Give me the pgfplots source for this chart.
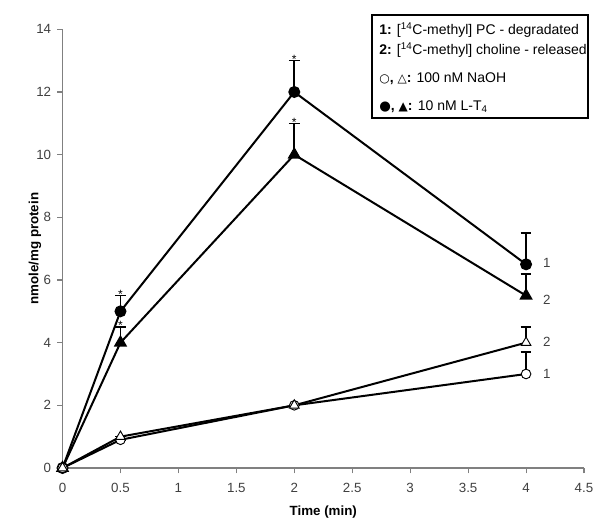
\documentclass[border=0pt]{standalone}
\usepackage{fontspec}
\setmainfont{Liberation Sans}
\newfontfamily\sym{DejaVu Sans}
\usepackage{pgfplots}
\pgfplotsset{compat=1.18}
\begin{document}
\begin{tikzpicture}
\useasboundingbox (-46.9pt,-41.25pt) rectangle (403.1pt,351pt);
\begin{axis}[
 at={(0,0)}, anchor=south west,
 scale only axis, width=391.1pt, height=329pt,
 xmin=0, xmax=4.5, ymin=0, ymax=14,
 axis lines=left, axis line style={-, black!50, line width=0.8pt},
 xtick={0,0.5,1,1.5,2,2.5,3,3.5,4,4.5}, ytick={0,2,4,6,8,10,12,14},
 tick align=outside, major tick length=4pt,
 tick style={black!50, line width=0.8pt},
 ticklabel style={font=\fontsize{10}{12}\selectfont, text=black!75},
 xticklabel style={yshift=-4pt},
 yticklabel style={xshift=-1pt},
 /pgf/number format/assume math mode=true,
 every axis x label/.style={at={(axis description cs:0.5,0)}, yshift=-33pt, anchor=center},
 every axis y label/.style={at={(axis description cs:0,0.5)}, xshift=-20.6pt, rotate=90, anchor=center},
 xlabel={\textbf{Time (min)}}, ylabel={\textbf{nmole/mg protein}},
 label style={font=\fontsize{10}{12}\selectfont},
 clip=false,
 error bars/y dir=plus, error bars/y explicit,
 error bars/error bar style={line width=1.2pt, black},
 error bars/error mark options={rotate=90, mark size=4pt, line width=1.2pt, black},
]
% 1: PC degraded, L-T4 (filled circle)
\addplot[black, line width=1.5pt, mark=*, mark size=4.1pt, mark options={fill=black, line width=0.8pt}]
 coordinates {(0,0) +- (0,0) (0.5,5) +- (0,0.5) (2,12) +- (0,1) (4,6.5) +- (0,1)};
% 2: choline released, L-T4 (filled triangle)
\addplot[black, line width=1.5pt, mark=triangle*, mark size=5pt, mark options={fill=black, line width=0.8pt}]
 coordinates {(0,0) +- (0,0) (0.5,4) +- (0,0.5) (2,10) +- (0,1) (4,5.5) +- (0,0.7)};
% 1: PC degraded, NaOH (open circle)
\addplot[black, line width=1.5pt, mark=*, mark size=3.6pt, mark options={fill=white, line width=0.7pt}]
 coordinates {(0,0) +- (0,0) (0.5,0.9) +- (0,0) (2,2) +- (0,0) (4,3) +- (0,0.7)};
% 2: choline released, NaOH (open triangle)
\addplot[black, line width=1.5pt, mark=triangle*, mark size=4.2pt, mark options={fill=white, line width=0.7pt}]
 coordinates {(0,0) +- (0,0) (0.5,1.0) +- (0,0) (2,2) +- (0,0) (4,4) +- (0,0.5)};
% series numbers
\node[anchor=center, font=\fontsize{10}{12}\selectfont, text=black!75] at (axis cs:4.18,6.55) {1};
\node[anchor=center, font=\fontsize{10}{12}\selectfont, text=black!75] at (axis cs:4.18,5.38) {2};
\node[anchor=center, font=\fontsize{10}{12}\selectfont, text=black!75] at (axis cs:4.18,4.03) {2};
\node[anchor=center, font=\fontsize{10}{12}\selectfont, text=black!75] at (axis cs:4.18,3.0) {1};
% significance stars
\node[anchor=base, yshift=-2.2pt, inner sep=0pt, font=\fontsize{9}{9}\selectfont] at (axis cs:0.5,5.5) {*};
\node[anchor=base, yshift=-2.2pt, inner sep=0pt, font=\fontsize{9}{9}\selectfont] at (axis cs:0.5,4.5) {*};
\node[anchor=base, yshift=-2.2pt, inner sep=0pt, font=\fontsize{9}{9}\selectfont] at (axis cs:2,13) {*};
\node[anchor=base, yshift=-2.2pt, inner sep=0pt, font=\fontsize{9}{9}\selectfont] at (axis cs:2,11) {*};
\end{axis}
% legend box
\draw[black, line width=0.8pt] (232.1pt,339.75pt) rectangle (394.1pt,262.5pt);
\begin{scope}[every node/.style={anchor=west, inner sep=0pt, font=\fontsize{10.5}{12}\selectfont}]
\node at (237.4pt,328.5pt) {\textbf{1:} [\textsuperscript{14}C-methyl] PC - degradated};
\node at (237.4pt,313.5pt) {\textbf{2:} [\textsuperscript{14}C-methyl] choline - released};
\node at (237.4pt,291.75pt) {{\sym\fontsize{9}{10}\selectfont ○}\textbf{,} {\sym\fontsize{9}{10}\selectfont △}\textbf{:} 100 nM NaOH};
\node at (237.4pt,270.75pt) {{\sym\fontsize{10}{10}\selectfont ●}\textbf{,} {\sym\fontsize{9}{10}\selectfont ▲}\textbf{:} 10 nM L-T\textsubscript{4}};
\end{scope}
\end{tikzpicture}
\end{document}
